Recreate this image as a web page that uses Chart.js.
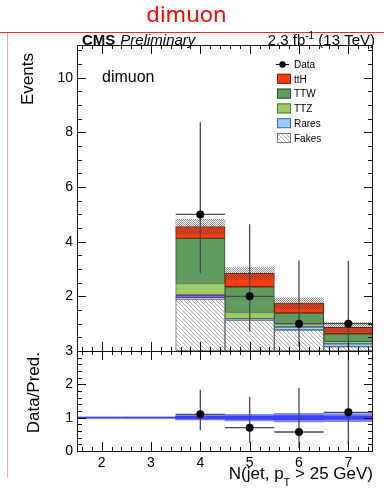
<!DOCTYPE html>
<html>
<head>
<meta charset="utf-8">
<title>dimuon</title>
<script src="https://cdn.jsdelivr.net/npm/chart.js@4.4.1/dist/chart.umd.min.js"></script>
<style>
body { margin: 0; background: #fff; }
canvas { display: block; }
</style>
</head>
<body>
<canvas id="njet-chart" width="384" height="491"></canvas>
<script>
// N(jet) bins, bin centres
const bins = [4, 5, 6, 7]
const fakes = [1.90, 1.13, 0.77, 0.16]
const rares = [0.05, 0.03, 0.11, 0.10]
const others = [0.10, 0.02, 0.01, 0.01]
const ttz = [0.42, 0.23, 0.11, 0.07]
const ttw = [1.65, 0.94, 0.39, 0.29]
const tth = [0.43, 0.49, 0.36, 0.24]
const bkgUnc = [0.27, 0.21, 0.20, 0.18]

const dataY = [5, 2, 1, 1]
const dataUp = [3.37, 2.64, 2.30, 2.30]
const dataDown = [2.16, 1.29, 0.83, 0.83]

// ratio panel
const ratioBins = [2, 3, 4, 5, 6, 7]
const ratioInner = [0.015, 0.015, 0.04, 0.05, 0.06, 0.05]
const ratioOuter = [0.015, 0.015, 0.07, 0.10, 0.13, 0.12]
const ratioY = [1.10, 0.70, 0.57, 1.16]
const ratioUp = [0.74, 0.93, 1.32, 2.66]
const ratioDown = [0.48, 0.45, 0.48, 0.96]

const xTicks = [2, 3, 4, 5, 6, 7]
const yTicks = [2, 4, 6, 8, 10]
const ratioTicks = [0, 1, 2, 3]

const legendRows = ['Data', 'ttH', 'TTW', 'TTZ', 'Rares', 'Fakes']

const FONT = 'Liberation Sans'

function makePattern(size, paint) {
  const c = document.createElement('canvas')
  c.width = size
  c.height = size
  const g = c.getContext('2d')
  paint(g, size)
  return g.createPattern(c, 'repeat')
}

const fakesFill = makePattern(4, (g, s) => {
  g.fillStyle = '#fff'
  g.fillRect(0, 0, s, s)
  g.strokeStyle = '#9a9a9a'
  g.lineWidth = 0.8
  g.beginPath()
  g.moveTo(-s, 0); g.lineTo(0, s)
  g.moveTo(0, 0); g.lineTo(s, s)
  g.moveTo(0, -s); g.lineTo(2 * s, s)
  g.stroke()
})

const bandFill = makePattern(2, (g) => {
  g.fillStyle = 'rgba(70,70,70,0.6)'
  g.fillRect(0, 0, 1, 1)
  g.fillRect(1, 1, 1, 1)
})

const components = [
  { label: 'Fakes', values: fakes, fill: fakesFill, line: '#666' },
  { label: 'Rares', values: rares, fill: '#99ccff', line: '#3a6ea5' },
  { label: 'Other', values: others, fill: '#a05ae8', line: '#5a2a90' },
  { label: 'TTZ', values: ttz, fill: '#9ccc65', line: '#4d7a28' },
  { label: 'TTW', values: ttw, fill: '#619b61', line: '#2b4f2b' },
  { label: 'ttH', values: tth, fill: '#ff3b12', line: '#8b1a00' }
]

let running = bins.map(() => 0)
const stackSets = components.map(c => {
  const data = bins.map((b, i) => ({ x: b, y: [running[i], running[i] + c.values[i]] }))
  running = running.map((v, i) => v + c.values[i])
  return {
    type: 'bar', label: c.label, data,
    backgroundColor: c.fill, borderColor: c.line, borderWidth: 1, borderSkipped: false,
    barPercentage: 1, categoryPercentage: 1, yAxisID: 'y', order: 10
  }
})
const total = running

function errorPath(xs, ys, up, down) {
  const pts = []
  xs.forEach((x, i) => {
    pts.push({ x, y: ys[i] - down[i] }, { x, y: ys[i] + up[i] }, { x, y: null })
    pts.push({ x: x - 0.5, y: ys[i] }, { x: x + 0.5, y: ys[i] }, { x, y: null })
  })
  return pts
}

function floatBand(xs, centre, half) {
  return xs.map((x, i) => ({ x, y: [centre[i] - half[i], centre[i] + half[i]] }))
}

const ones = ratioBins.map(() => 1)

const datasets = [
  ...stackSets,
  {
    type: 'bar', label: 'unc', data: floatBand(bins, total, bkgUnc),
    backgroundColor: bandFill, borderWidth: 0, barPercentage: 1, categoryPercentage: 1,
    yAxisID: 'y', order: 8
  },
  {
    type: 'line', label: 'data err', data: errorPath(bins, dataY, dataUp, dataDown),
    borderColor: '#4a4a4a', borderWidth: 1.3, pointRadius: 0, spanGaps: false, yAxisID: 'y', order: 2
  },
  {
    type: 'line', label: 'Data', data: bins.map((b, i) => ({ x: b, y: dataY[i] })),
    showLine: false, pointRadius: 4, pointBackgroundColor: '#000', pointBorderWidth: 0,
    yAxisID: 'y', order: 1
  },
  {
    type: 'bar', label: 'ratio outer', data: floatBand(ratioBins, ones, ratioOuter),
    backgroundColor: '#8286ff', borderWidth: 0, barPercentage: 1, categoryPercentage: 1,
    yAxisID: 'ratio', order: 7
  },
  {
    type: 'bar', label: 'ratio inner', data: floatBand(ratioBins, ones, ratioInner),
    backgroundColor: '#3a40fb', borderWidth: 0, barPercentage: 1, categoryPercentage: 1,
    yAxisID: 'ratio', order: 6
  },
  {
    type: 'line', label: 'ratio err', data: errorPath(bins, ratioY, ratioUp, ratioDown),
    borderColor: '#4a4a4a', borderWidth: 1.3, pointRadius: 0, spanGaps: false, yAxisID: 'ratio', order: 2
  },
  {
    type: 'line', label: 'ratio', data: bins.map((b, i) => ({ x: b, y: ratioY[i] })),
    showLine: false, pointRadius: 4, pointBackgroundColor: '#000', pointBorderWidth: 0,
    yAxisID: 'ratio', order: 1
  }
]

function panel(ctx, xs, ys, yMinor, yMajor, tickLen) {
  const l = Math.round(xs.left), r = Math.round(xs.right)
  const t = Math.round(ys.top), b = Math.round(ys.bottom)
  ctx.strokeRect(l + 0.5, t + 0.5, r - l - 1, b - t)
  ctx.beginPath()
  for (let k = 1; k * yMinor < ys.max - 1e-6; k++) {
    const v = k * yMinor
    const py = Math.round(ys.getPixelForValue(v)) + 0.5
    const q = v / yMajor
    const len = Math.abs(q - Math.round(q)) < 1e-6 ? tickLen : tickLen * 0.55
    ctx.moveTo(l, py); ctx.lineTo(l + len, py)
    ctx.moveTo(r, py); ctx.lineTo(r - len, py)
  }
  for (let k = 8; k <= 37; k++) {
    const px = Math.round(xs.getPixelForValue(k * 0.2)) + 0.5
    const len = k % 5 === 0 ? tickLen : tickLen * 0.45
    ctx.moveTo(px, t); ctx.lineTo(px, t + len)
    ctx.moveTo(px, b); ctx.lineTo(px, b - len)
  }
  ctx.stroke()
}

function vText(ctx, text, x, y) {
  ctx.save()
  ctx.translate(x, y)
  ctx.rotate(-Math.PI / 2)
  ctx.textAlign = 'right'
  ctx.fillText(text, 0, 0)
  ctx.restore()
}

const cmsStyle = {
  id: 'cmsStyle',
  beforeDraw(chart) {
    const ctx = chart.ctx
    ctx.save()
    ctx.fillStyle = '#fff'
    ctx.fillRect(0, 0, chart.width, chart.height)
    ctx.lineWidth = 1
    ctx.strokeStyle = '#e53030'
    ctx.beginPath(); ctx.moveTo(0, 32.5); ctx.lineTo(chart.width, 32.5); ctx.stroke()
    ctx.strokeStyle = '#f0a6a6'
    ctx.beginPath(); ctx.moveTo(7.5, 33); ctx.lineTo(7.5, 478); ctx.stroke()
    ctx.restore()
  },
  afterDraw(chart) {
    const { ctx, scales } = chart
    ctx.save()
    ctx.strokeStyle = '#111'
    ctx.lineWidth = 1
    panel(ctx, scales.x, scales.y, 0.5, 2, 9)
    panel(ctx, scales.x, scales.ratio, 0.2, 1, 9)

    ctx.fillStyle = '#000'
    ctx.textBaseline = 'alphabetic'
    // header
    ctx.font = 'bold 15px "' + FONT + '"'
    ctx.textAlign = 'left'
    ctx.fillText('CMS', 82, 45)
    const cmsW = ctx.measureText('CMS').width
    ctx.font = 'italic 15px "' + FONT + '"'
    ctx.fillText('Preliminary', 82 + cmsW + 5, 45)

    ctx.font = '15px "' + FONT + '"'
    const tail = ' (13 TeV)'
    const tailW = ctx.measureText(tail).width
    ctx.textAlign = 'right'
    ctx.fillText(tail, 375, 45)
    ctx.font = '10px "' + FONT + '"'
    const supW = ctx.measureText('-1').width
    ctx.fillText('-1', 375 - tailW, 39)
    ctx.font = '15px "' + FONT + '"'
    ctx.fillText('2.3 fb', 375 - tailW - supW, 45)

    // channel label
    ctx.textAlign = 'left'
    ctx.font = '16px "' + FONT + '"'
    ctx.fillText('dimuon', 102, 82)

    // axis titles
    ctx.font = '17px "' + FONT + '"'
    vText(ctx, 'Events', 33, 53)
    vText(ctx, 'Data/Pred.', 39, 352)

    ctx.textAlign = 'right'
    const after = ' > 25 GeV)'
    ctx.fillText(after, 373, 479)
    const afterW = ctx.measureText(after).width
    ctx.font = '11px "' + FONT + '"'
    ctx.fillText('T', 373 - afterW, 486)
    const tW = ctx.measureText('T').width
    ctx.font = '17px "' + FONT + '"'
    ctx.fillText('N(jet, p', 373 - afterW - tW, 479)

    // legend
    ctx.font = '10px "' + FONT + '"'
    ctx.textAlign = 'left'
    ctx.textBaseline = 'middle'
    legendRows.forEach((name, i) => {
      const cy = 64 + i * 14.8
      if (name === 'Data') {
        ctx.strokeStyle = '#000'
        ctx.beginPath(); ctx.moveTo(276, cy + 0.5); ctx.lineTo(289, cy + 0.5); ctx.stroke()
        ctx.beginPath(); ctx.arc(282.5, cy + 0.5, 3.2, 0, Math.PI * 2); ctx.fill()
      } else {
        const c = components.find(k => k.label === name)
        ctx.fillStyle = c.fill
        ctx.fillRect(277, cy - 5, 14, 10)
        ctx.strokeStyle = name === 'Fakes' ? '#777' : c.line
        ctx.strokeRect(277.5, cy - 4.5, 13, 9)
      }
      ctx.fillStyle = '#000'
      ctx.fillText(name, 294, cy + 1)
    })
    ctx.restore()
  }
}

const chart = new Chart(document.getElementById('njet-chart'), {
  data: { datasets },
  options: {
    responsive: false,
    animation: false,
    events: [],
    layout: { padding: { top: 0, left: 0, right: 11, bottom: 0 } },
    plugins: {
      legend: { display: false },
      tooltip: { enabled: false },
      title: {
        display: true, text: 'dimuon', color: '#ff0000',
        font: { family: 'Noto Sans', size: 22, weight: 'normal' },
        padding: { top: 3, bottom: 15.6 }
      }
    },
    scales: {
      x: {
        type: 'linear', min: 1.5, max: 7.5, stacked: true, offset: false,
        grid: { display: false, drawTicks: false }, border: { display: false },
        afterBuildTicks: s => { s.ticks = xTicks.map(v => ({ value: v })) },
        ticks: { font: { family: FONT, size: 14 }, color: '#000', padding: 4, maxRotation: 0 },
        afterFit: s => { s.height = 40 }
      },
      ratio: {
        type: 'linear', position: 'left', stack: 'panels', stackWeight: 1,
        min: 0, max: 3,
        grid: { display: false, drawTicks: false }, border: { display: false },
        afterBuildTicks: s => { s.ticks = ratioTicks.map(v => ({ value: v })) },
        ticks: { font: { family: FONT, size: 14 }, color: '#000', padding: 4 },
        afterFit: s => { s.width = 77 }
      },
      y: {
        type: 'linear', position: 'left', stack: 'panels', stackWeight: 3.06,
        min: 0, max: 11.2,
        grid: { display: false, drawTicks: false }, border: { display: false },
        afterBuildTicks: s => { s.ticks = yTicks.map(v => ({ value: v })) },
        ticks: { font: { family: FONT, size: 14 }, color: '#000', padding: 4 },
        afterFit: s => { s.width = 77 }
      }
    }
  },
  plugins: [cmsStyle]
})
</script>
</body>
</html>
